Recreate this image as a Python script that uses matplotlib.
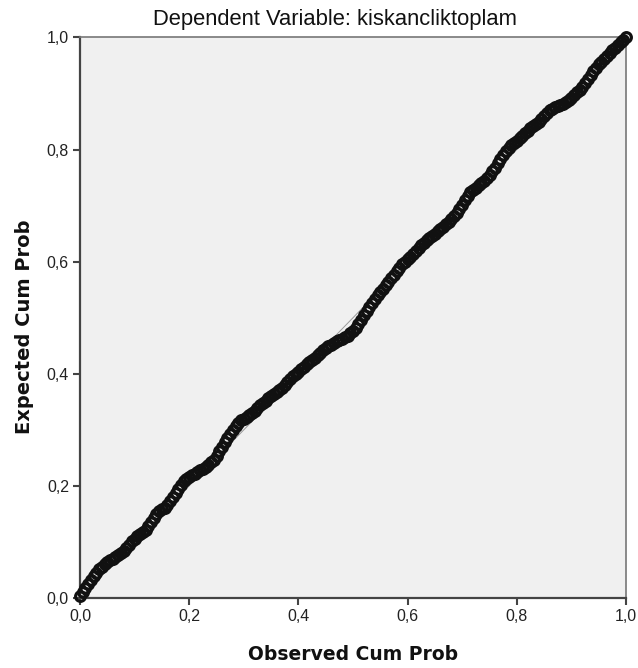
import matplotlib
matplotlib.use("Agg")
import matplotlib.pyplot as plt

# observed vs expected cumulative probabilities
observed_cum_prob = [
    0.000, 0.005, 0.010, 0.015, 0.020, 0.025, 0.030, 0.035, 0.040, 0.045,
    0.050, 0.055, 0.060, 0.065, 0.070, 0.075, 0.080, 0.085, 0.090, 0.095,
    0.100, 0.105, 0.110, 0.115, 0.120, 0.125, 0.130, 0.135, 0.140, 0.145,
    0.150, 0.155, 0.160, 0.165, 0.170, 0.175, 0.180, 0.185, 0.190, 0.195,
    0.200, 0.205, 0.210, 0.215, 0.220, 0.225, 0.230, 0.235, 0.240, 0.245,
    0.250, 0.255, 0.260, 0.265, 0.270, 0.275, 0.280, 0.285, 0.290, 0.295,
    0.300, 0.305, 0.310, 0.315, 0.320, 0.325, 0.330, 0.335, 0.340, 0.345,
    0.350, 0.355, 0.360, 0.365, 0.370, 0.375, 0.380, 0.385, 0.390, 0.395,
    0.400, 0.405, 0.410, 0.415, 0.420, 0.425, 0.430, 0.435, 0.440, 0.445,
    0.450, 0.455, 0.460, 0.465, 0.470, 0.475, 0.480, 0.485, 0.490, 0.495,
    0.500, 0.505, 0.510, 0.515, 0.520, 0.525, 0.530, 0.535, 0.540, 0.545,
    0.550, 0.555, 0.560, 0.565, 0.570, 0.575, 0.580, 0.585, 0.590, 0.595,
    0.600, 0.605, 0.610, 0.615, 0.620, 0.625, 0.630, 0.635, 0.640, 0.645,
    0.650, 0.655, 0.660, 0.665, 0.670, 0.675, 0.680, 0.685, 0.690, 0.695,
    0.700, 0.705, 0.710, 0.715, 0.720, 0.725, 0.730, 0.735, 0.740, 0.745,
    0.750, 0.755, 0.760, 0.765, 0.770, 0.775, 0.780, 0.785, 0.790, 0.795,
    0.800, 0.805, 0.810, 0.815, 0.820, 0.825, 0.830, 0.835, 0.840, 0.845,
    0.850, 0.855, 0.860, 0.865, 0.870, 0.875, 0.880, 0.885, 0.890, 0.895,
    0.900, 0.905, 0.910, 0.915, 0.920, 0.925, 0.930, 0.935, 0.940, 0.945,
    0.950, 0.955, 0.960, 0.965, 0.970, 0.975, 0.980, 0.985, 0.990, 0.995,
    1.000,
]
expected_cum_prob = [
    0.004, 0.011, 0.018, 0.025, 0.032, 0.039, 0.045, 0.051, 0.056, 0.060,
    0.064, 0.067, 0.070, 0.073, 0.076, 0.080, 0.084, 0.089, 0.095, 0.101,
    0.106, 0.110, 0.114, 0.117, 0.122, 0.129, 0.136, 0.143, 0.150, 0.155,
    0.158, 0.161, 0.166, 0.173, 0.180, 0.188, 0.195, 0.202, 0.208, 0.213,
    0.216, 0.219, 0.222, 0.225, 0.228, 0.231, 0.234, 0.238, 0.242, 0.247,
    0.254, 0.262, 0.270, 0.278, 0.286, 0.293, 0.300, 0.307, 0.312, 0.317,
    0.320, 0.323, 0.326, 0.330, 0.334, 0.339, 0.344, 0.348, 0.352, 0.356,
    0.360, 0.364, 0.367, 0.371, 0.375, 0.380, 0.386, 0.391, 0.396, 0.400,
    0.404, 0.408, 0.412, 0.417, 0.421, 0.425, 0.429, 0.433, 0.437, 0.442,
    0.446, 0.449, 0.452, 0.455, 0.458, 0.460, 0.462, 0.465, 0.468, 0.472,
    0.476, 0.481, 0.488, 0.496, 0.504, 0.512, 0.520, 0.527, 0.534, 0.540,
    0.546, 0.552, 0.558, 0.564, 0.570, 0.577, 0.583, 0.589, 0.595, 0.600,
    0.604, 0.608, 0.613, 0.619, 0.624, 0.629, 0.634, 0.638, 0.642, 0.646,
    0.650, 0.654, 0.658, 0.662, 0.667, 0.671, 0.676, 0.681, 0.686, 0.694,
    0.702, 0.710, 0.718, 0.724, 0.728, 0.732, 0.736, 0.740, 0.744, 0.749,
    0.754, 0.761, 0.768, 0.776, 0.784, 0.791, 0.798, 0.803, 0.808, 0.812,
    0.816, 0.820, 0.824, 0.829, 0.834, 0.838, 0.842, 0.846, 0.850, 0.855,
    0.860, 0.865, 0.870, 0.873, 0.876, 0.878, 0.880, 0.882, 0.884, 0.888,
    0.892, 0.897, 0.902, 0.907, 0.912, 0.919, 0.926, 0.933, 0.940, 0.946,
    0.952, 0.957, 0.962, 0.967, 0.972, 0.977, 0.982, 0.987, 0.992, 0.996,
    1.000,
]
tick_values = [0.0, 0.2, 0.4, 0.6, 0.8, 1.0]
tick_labels = ["0,0", "0,2", "0,4", "0,6", "0,8", "1,0"]

fig = plt.figure(figsize=(6.38, 6.68), dpi=100)
ax = fig.add_axes([0.1254, 0.1048, 0.8558, 0.8391])
ax.set_facecolor("#f0f0f0")

# reference diagonal, mostly hidden under the points
ax.plot([0, 1], [0, 1], color="#999999", linewidth=0.7, zorder=2)
ax.plot(observed_cum_prob, expected_cum_prob, linestyle="none", marker="o",
        markersize=7.0, markerfacecolor="none", markeredgecolor="#111111",
        markeredgewidth=2.3, zorder=3, clip_on=False)

ax.set_xlim(0, 1)
ax.set_ylim(0, 1)
ax.set_xticks(tick_values)
ax.set_xticklabels(tick_labels)
ax.set_yticks(tick_values)
ax.set_yticklabels(tick_labels)
ax.tick_params(direction="out", length=5, width=1.5, color="#444444",
               labelsize=11.5, labelcolor="#222222", pad=3)
for lab in ax.get_xticklabels() + ax.get_yticklabels():
    lab.set_family("Liberation Sans")

ax.spines["left"].set_color("#444444")
ax.spines["bottom"].set_color("#444444")
ax.spines["left"].set_linewidth(1.6)
ax.spines["bottom"].set_linewidth(1.6)
ax.spines["top"].set_color("#777777")
ax.spines["right"].set_color("#777777")
ax.spines["top"].set_linewidth(1.2)
ax.spines["right"].set_linewidth(1.2)

fig.text(335 / 638, 1 - 19 / 668, "Dependent Variable: kiskancliktoplam",
         ha="center", va="center", fontsize=15.8, family="Liberation Sans",
         color="#111111")
fig.text(353 / 638, 1 - 655 / 668, "Observed Cum Prob", ha="center",
         va="center", fontsize=13.5, fontweight="bold", family="DejaVu Sans",
         color="#111111")
fig.text(25 / 638, 1 - 327 / 668, "Expected Cum Prob", ha="center",
         va="center", rotation=90, fontsize=14, fontweight="bold",
         family="DejaVu Sans", color="#111111")

fig.savefig("out.png", dpi=100, facecolor="white")
